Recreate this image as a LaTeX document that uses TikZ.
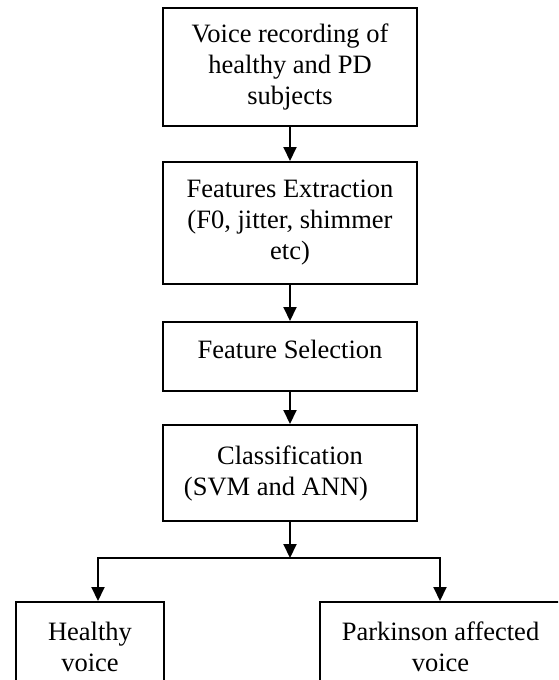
\documentclass[tikz,border=0pt]{standalone}
\usepackage{fontspec}
\setmainfont{Liberation Serif}
\usetikzlibrary{arrows.meta}
\begin{document}
\begin{tikzpicture}[x=1pt,y=-1pt,
  box/.style={draw,line width=2pt,rectangle,inner sep=0pt,align=center,
    font=\fontsize{26.5}{31}\selectfont},
  conn/.style={line width=2pt},
  arr/.style={conn,-{Triangle[width=13pt,length=14pt]}}]
\useasboundingbox (0,0) rectangle (558,680);
\clip (0,0) rectangle (558,680);
\node[box,minimum width=254pt,minimum height=118pt] (b1) at (290,67)
  {Voice recording of\\healthy and PD\\subjects};
\node[box,minimum width=254pt,minimum height=122pt] (b2) at (290,223)
  {Features Extraction\\(F0, jitter, shimmer\\etc)};
\node[box,minimum width=254pt,minimum height=69pt,text height=18pt,text depth=15pt] (b3) at (290,356.5)
  {Feature Selection};
\node[box,minimum width=254pt,minimum height=96pt] (b4) at (290,473)
  {Classification\\(SVM and ANN)\hspace*{28pt}};
\node[box,minimum width=148pt,minimum height=89pt] (h) at (90,646.5)
  {Healthy\\voice};
\node[box,minimum width=241pt,minimum height=89pt] (p) at (440.5,646.5)
  {Parkinson affected\\voice};
\coordinate (j) at (290,558);
\coordinate (jl) at (98,558);
\coordinate (jr) at (440,558);
\draw[arr] (b1) -- (b2);
\draw[arr] (b2) -- (b3);
\draw[arr] (b3) -- (b4);
\draw[arr] (b4) -- (j);
\draw[arr] (jr) -- (jl) -- (jl |- h.north);
\draw[arr] (jl) -- (jr) -- (jr |- p.north);
\end{tikzpicture}
\end{document}
